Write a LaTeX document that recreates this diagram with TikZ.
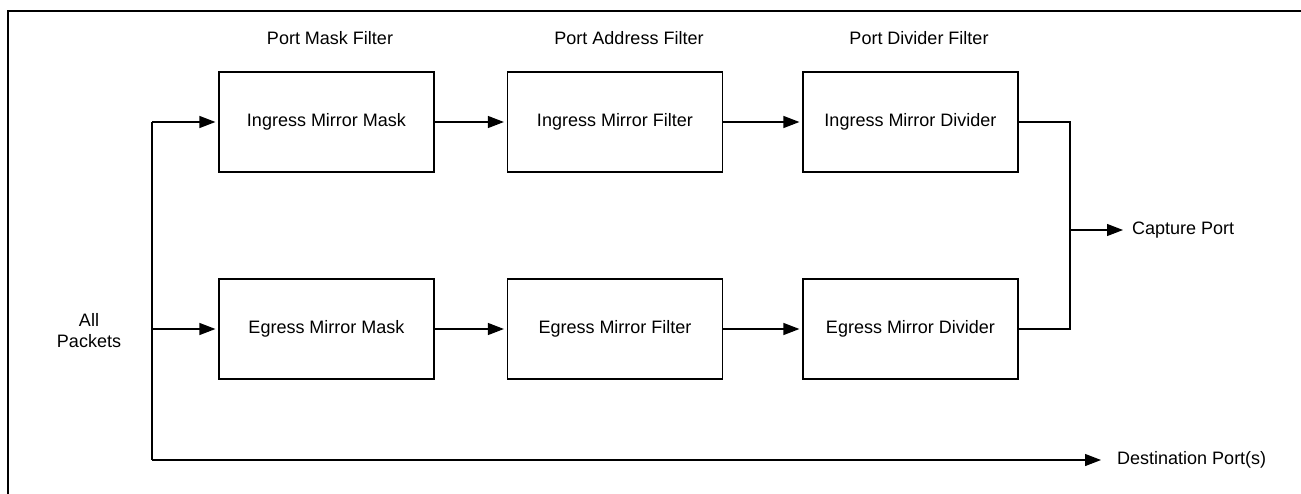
\documentclass[tikz,border=0pt]{standalone}
\usepackage{fontspec}
\setmainfont{Liberation Sans}
\usetikzlibrary{arrows.meta}
\begin{document}
\begin{tikzpicture}[x=1pt,y=-1pt,
  lw/.style={line width=1.2pt},
  fbox/.style={draw,lw,minimum width=215pt,minimum height=100pt,inner sep=0pt,font=\fontsize{18}{21}\selectfont},
  lbl/.style={inner sep=0pt,font=\fontsize{18}{21}\selectfont},
  arr/.style={lw,-{Triangle[length=16pt,width=12pt]}},
  conn/.style={lw}]
\useasboundingbox (0,0) rectangle (1301,493);
% frame (cropped at right and bottom)
\draw[lw,line width=1.5pt] (8,500) -- (8,11) -- (1310,11);
% filter labels
\node[lbl,anchor=base] (l1) at (330,44) {Port Mask Filter};
\node[lbl,anchor=base] (l2) at (629,44) {Port Address Filter};
\node[lbl,anchor=base] (l3) at (919,44) {Port Divider Filter};
% boxes
\node[fbox] (im) at (326.5,122) {Ingress Mirror Mask};
\node[fbox] (if) at (615,122) {Ingress Mirror Filter};
\node[fbox] (id) at (910.5,122) {Ingress Mirror Divider};
\node[fbox] (em) at (326.5,329) {Egress Mirror Mask};
\node[fbox] (ef) at (615,329) {Egress Mirror Filter};
\node[fbox] (ed) at (910.5,329) {Egress Mirror Divider};
% side labels
\node[lbl,align=center] (all) at (89,331) {All\\Packets};
\node[lbl,anchor=west] (cap) at (1132,230) {Capture Port};
\node[lbl,anchor=west] (dst) at (1117,460) {Destination Port(s)};
% coordinates
\coordinate (top) at (152,122);
\coordinate (mid) at (152,329);
\coordinate (bot) at (152,460);
\coordinate (jx) at (1070,230);
% connectors
\draw[conn] (top) -- (bot);
\draw[arr] (top) -- ([xshift=-3pt]im.west);
\draw[arr] (mid) -- ([xshift=-3pt]em.west);
\draw[arr] (bot) -- ([xshift=-16pt]dst.west |- bot);
\draw[arr] (im.east) -- ([xshift=-3pt]if.west);
\draw[arr] (if.east) -- ([xshift=-3pt]id.west);
\draw[arr] (em.east) -- ([xshift=-3pt]ef.west);
\draw[arr] (ef.east) -- ([xshift=-3pt]ed.west);
\draw[conn] (id.east) -| (jx) |- (ed.east);
\draw[arr] (jx) -- ([xshift=-9pt]cap.west);
\end{tikzpicture}
\end{document}
